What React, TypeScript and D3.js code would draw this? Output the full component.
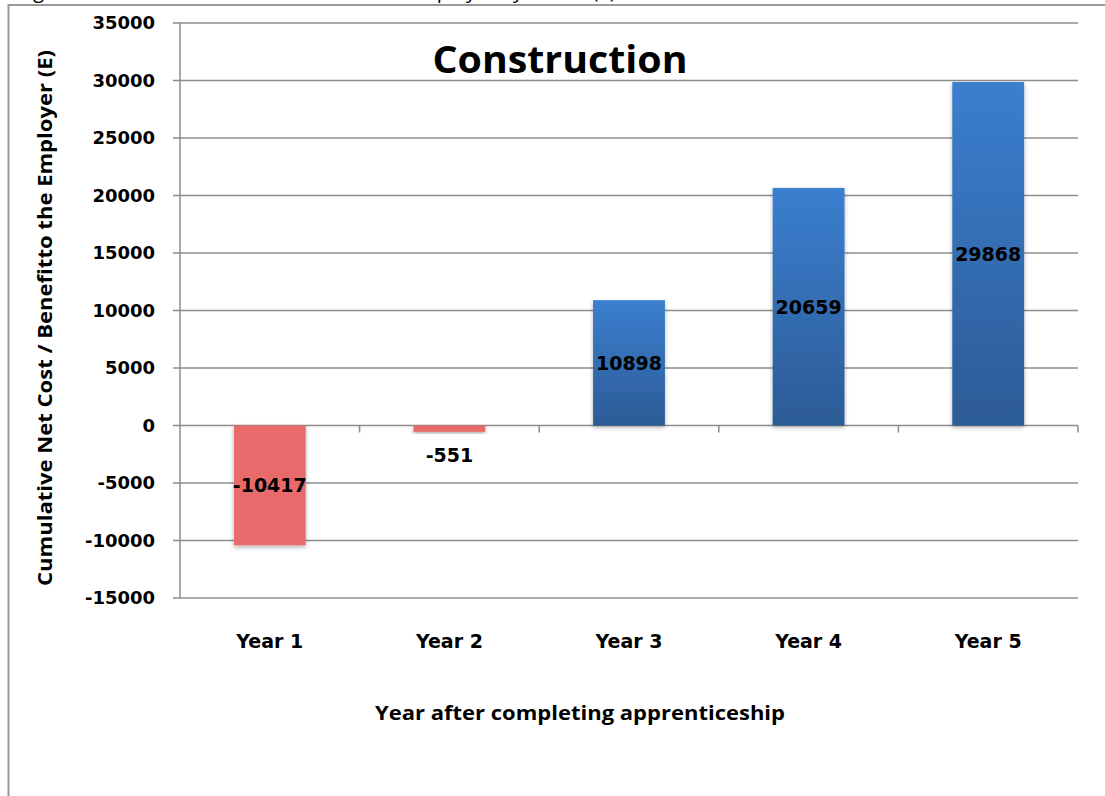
import React, { useRef, useEffect } from 'react';
import * as d3 from 'd3';

const categories = ['Year 1', 'Year 2', 'Year 3', 'Year 4', 'Year 5'];
const values = [-10417, -551, 10898, 20659, 29868];
const yTicks = [-15000, -10000, -5000, 0, 5000, 10000, 15000, 20000, 25000, 30000, 35000];

const W = 1105;
const H = 796;

const App = () => {
  const svgRef = useRef<SVGSVGElement>(null);

  useEffect(() => {
    const svg = d3.select(svgRef.current);
    svg.selectAll('*').remove();

    const margin = { top: 23, right: 27, bottom: 198, left: 180 };
    const innerW = W - margin.left - margin.right;

    // category bands span the whole plot width, bars take 40% of each band
    const x = d3.scaleBand().domain(categories).range([margin.left, margin.left + innerW]).padding(0);
    const barW = x.bandwidth() * 0.4;
    const y = d3.scaleLinear().domain([-15000, 35000]).range([H - margin.bottom, margin.top]);

    const defs = svg.append('defs');
    const grad = defs
      .append('linearGradient')
      .attr('id', 'blueGrad')
      .attr('x1', 0)
      .attr('y1', 0)
      .attr('x2', 0)
      .attr('y2', 1);
    grad.append('stop').attr('offset', '0%').attr('stop-color', '#3b7fcf');
    grad.append('stop').attr('offset', '100%').attr('stop-color', '#2c5b96');
    const shadow = defs.append('filter').attr('id', 'shadow').attr('x', '-20%').attr('y', '-20%').attr('width', '140%').attr('height', '140%');
    shadow
      .append('feDropShadow')
      .attr('dx', 0)
      .attr('dy', 2)
      .attr('stdDeviation', 2)
      .attr('flood-color', '#000')
      .attr('flood-opacity', 0.3);

    // outer frame
    svg
      .append('path')
      .attr('d', `M${W},5 H8.5 V${H}`)
      .attr('fill', 'none')
      .attr('stroke', '#999')
      .attr('stroke-width', 2);

    // caption of the page, mostly above the visible area
    svg
      .append('text')
      .attr('x', 18)
      .attr('y', -2)
      .attr('font-family', 'Open Sans, sans-serif')
      .attr('font-size', 20)
      .attr('fill', '#000')
      .text('Figure 9: Cumulative Net Cost / Benefit to Employer by Sector (€)');

    // gridlines
    svg
      .append('g')
      .selectAll('line')
      .data(yTicks)
      .join('line')
      .attr('x1', margin.left - 7)
      .attr('x2', margin.left + innerW)
      .attr('y1', (d) => y(d))
      .attr('y2', (d) => y(d))
      .attr('stroke', '#8c8c8c')
      .attr('stroke-width', 1.5);

    // y axis line
    svg
      .append('line')
      .attr('x1', margin.left)
      .attr('x2', margin.left)
      .attr('y1', y(35000))
      .attr('y2', y(-15000))
      .attr('stroke', '#8c8c8c')
      .attr('stroke-width', 1.5);

    // category ticks on the zero line
    svg
      .append('g')
      .selectAll('line')
      .data(categories)
      .join('line')
      .attr('x1', (d) => (x(d) as number) + x.bandwidth())
      .attr('x2', (d) => (x(d) as number) + x.bandwidth())
      .attr('y1', y(0))
      .attr('y2', y(0) + 7)
      .attr('stroke', '#8c8c8c')
      .attr('stroke-width', 1.5);

    // y tick labels
    svg
      .append('g')
      .selectAll('text')
      .data(yTicks)
      .join('text')
      .attr('x', margin.left - 25)
      .attr('y', (d) => y(d))
      .attr('dy', '0.36em')
      .attr('text-anchor', 'end')
      .attr('font-family', 'DejaVu Sans, sans-serif')
      .attr('font-weight', 'bold')
      .attr('font-size', 18)
      .text((d) => d);

    // bars
    svg
      .append('g')
      .selectAll('rect')
      .data(values)
      .join('rect')
      .attr('x', (_, i) => (x(categories[i]) as number) + (x.bandwidth() - barW) / 2)
      .attr('width', barW)
      .attr('y', (d) => y(Math.max(0, d)))
      .attr('height', (d) => Math.abs(y(d) - y(0)))
      .attr('fill', (d) => (d < 0 ? '#e96a6a' : 'url(#blueGrad)'))
      .attr('filter', 'url(#shadow)');

    // data labels
    svg
      .append('g')
      .selectAll('text')
      .data(values)
      .join('text')
      .attr('x', (_, i) => (x(categories[i]) as number) + x.bandwidth() / 2)
      .attr('y', (d) => (Math.abs(d) < 2000 ? y(0) + 30 : (y(d) + y(0)) / 2))
      .attr('dy', '0.36em')
      .attr('text-anchor', 'middle')
      .attr('font-family', 'DejaVu Sans, sans-serif')
      .attr('font-weight', 'bold')
      .attr('font-size', 19)
      .attr('fill', '#000')
      .text((d) => d);

    // x labels
    svg
      .append('g')
      .selectAll('text')
      .data(categories)
      .join('text')
      .attr('x', (d) => (x(d) as number) + x.bandwidth() / 2)
      .attr('y', 641)
      .attr('dy', '0.36em')
      .attr('text-anchor', 'middle')
      .attr('font-family', 'DejaVu Sans, sans-serif')
      .attr('font-weight', 'bold')
      .attr('font-size', 19)
      .text((d) => d);

    // x axis title
    svg
      .append('text')
      .attr('x', 580)
      .attr('y', 713)
      .attr('dy', '0.36em')
      .attr('text-anchor', 'middle')
      .attr('font-family', 'Open Sans, sans-serif')
      .attr('font-weight', 'bold')
      .attr('font-size', 19)
      .attr('textLength', 410)
      .attr('lengthAdjust', 'spacingAndGlyphs')
      .text('Year after completing apprenticeship');

    // y axis title
    svg
      .append('text')
      .attr('transform', `translate(45,${318}) rotate(-90)`)
      .attr('dy', '0.36em')
      .attr('text-anchor', 'middle')
      .attr('font-family', 'Open Sans, sans-serif')
      .attr('font-weight', 'bold')
      .attr('font-size', 19)
      .attr('textLength', 536)
      .attr('lengthAdjust', 'spacingAndGlyphs')
      .text('Cumulative Net Cost / Benefitto the Employer (E)');

    // chart title
    svg
      .append('text')
      .attr('x', 560)
      .attr('y', 59)
      .attr('dy', '0.36em')
      .attr('text-anchor', 'middle')
      .attr('font-family', 'Open Sans, sans-serif')
      .attr('font-weight', 'bold')
      .attr('font-size', 38)
      .attr('textLength', 255)
      .attr('lengthAdjust', 'spacingAndGlyphs')
      .text('Construction');
  }, []);

  return (
    <svg
      ref={svgRef}
      width={W}
      height={H}
      style={{ position: 'absolute', left: 0, top: 0, background: '#fff' }}
    ></svg>
  );
};

export default App;
